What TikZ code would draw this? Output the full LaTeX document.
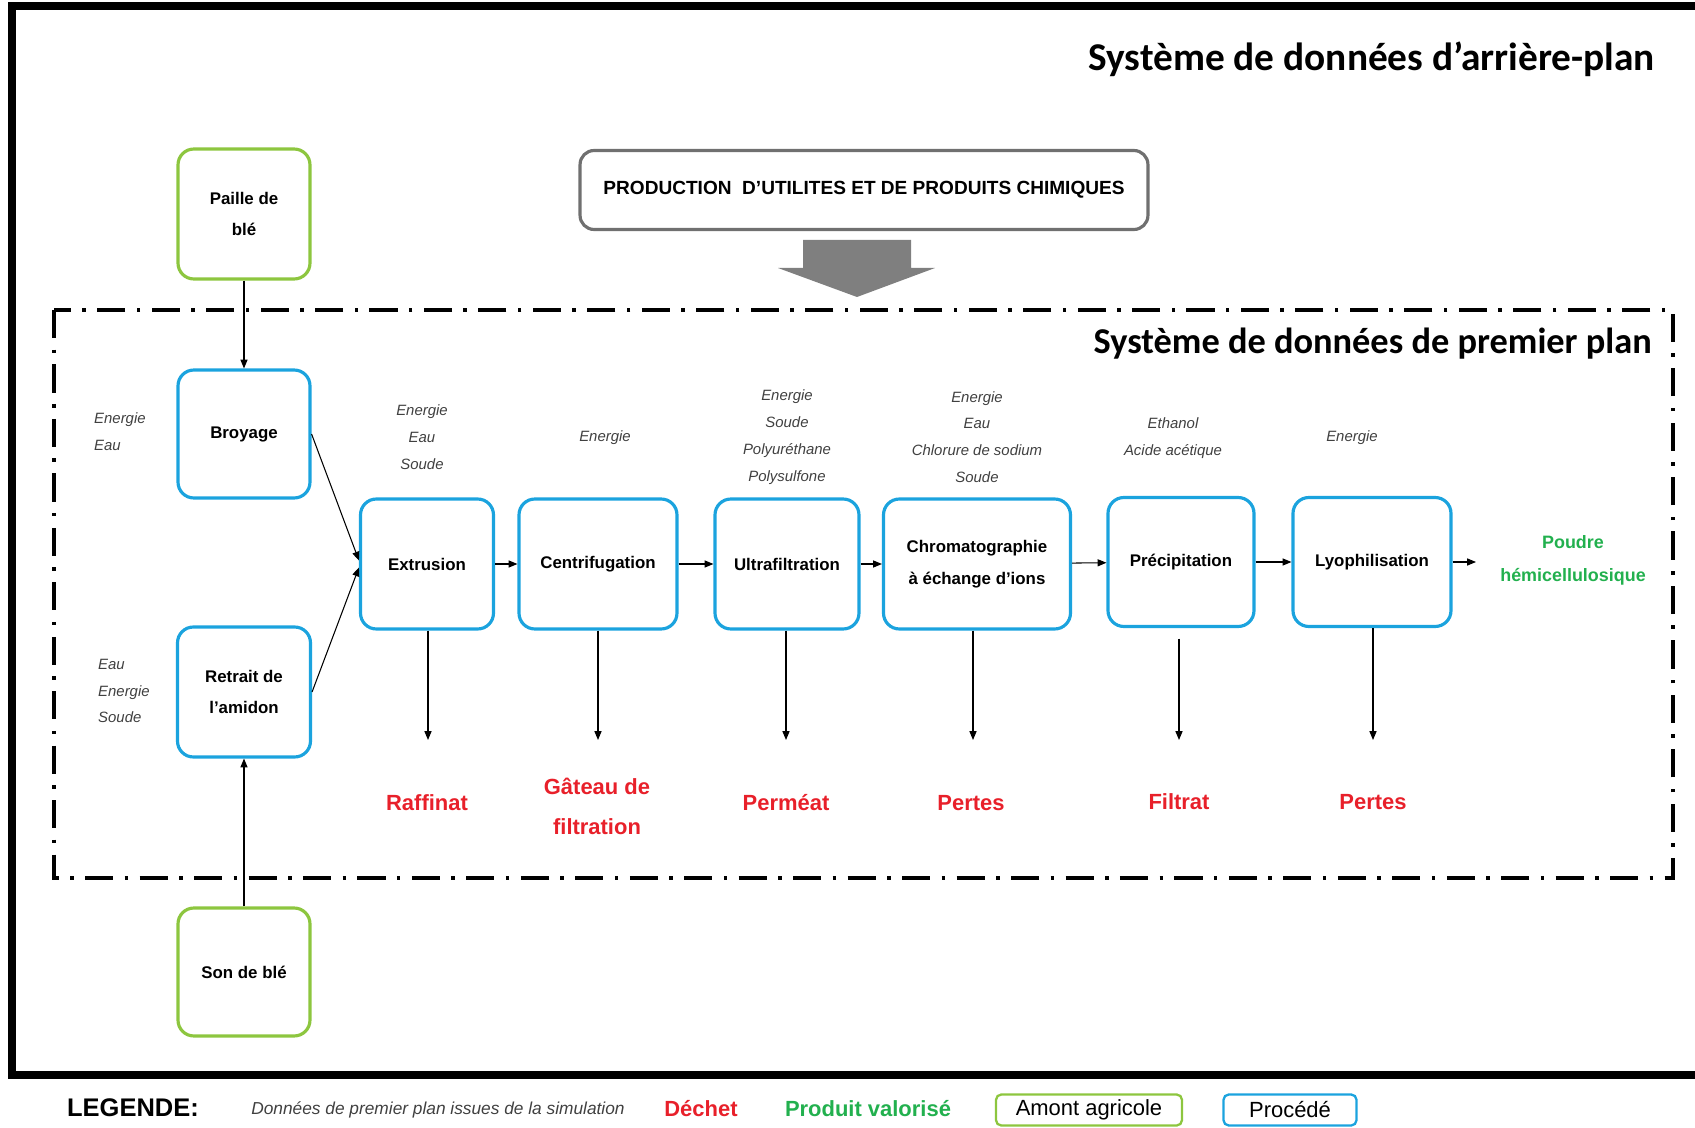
\documentclass[tikz,border=0pt]{standalone}
\usepackage{fontspec}
\setmainfont{Liberation Sans}
\newfontfamily\titlefont{Carlito}
\usetikzlibrary{arrows.meta}
\definecolor{agrigreen}{HTML}{8DC63F}
\definecolor{procblue}{HTML}{1BA3DE}
\definecolor{wastered}{HTML}{E8202A}
\definecolor{prodgreen}{HTML}{22B04E}
\definecolor{inputgray}{HTML}{404040}
\definecolor{utilgray}{HTML}{707070}
\definecolor{arrowgray}{HTML}{7F7F7F}

\begin{document}
\begin{tikzpicture}[x=0.02cm, y=-0.02cm,
  >={Triangle[length=5pt, width=4pt]},
  agribox/.style={draw=agrigreen, line width=1.8pt, rounded corners=9pt, inner sep=0pt,
    align=center, font=\fontsize{9.6}{18}\selectfont\bfseries},
  procbox/.style={draw=procblue, line width=1.8pt, rounded corners=9pt, inner sep=0pt,
    align=center, font=\fontsize{9.6}{18}\selectfont\bfseries},
  inputs/.style={text=inputgray, align=center, font=\fontsize{8.5}{15.3}\selectfont\itshape},
  waste/.style={text=wastered, align=center, font=\fontsize{12.5}{22.7}\selectfont\bfseries},
  bigtitle/.style={anchor=east},
  flow/.style={->, line width=0.6pt},
  legbox/.style={line width=1.3pt, rounded corners=3pt, inner sep=0pt,
    font=\fontsize{12.5}{15}\selectfont}]

\useasboundingbox (0,0) rectangle (1695,1128);

% Outer frame (cut on the right)
\draw[line width=4pt] (1695,6) -- (12,6) -- (12,1075) -- (1695,1075);

% Titles
\node[bigtitle, font=\titlefont\bfseries\fontsize{22.4}{26}\selectfont] (bgtitle) at (1661,59) {Système de données d’arrière-plan};
\node[bigtitle, font=\titlefont\bfseries\fontsize{20.7}{24}\selectfont] (fgtitle) at (1658,344) {Système de données de premier plan};

% Utilities box and big arrow
\node[draw=utilgray, line width=1.8pt, rounded corners=8pt, minimum width=11.36cm, minimum height=1.58cm,
  font=\fontsize{10.85}{12}\selectfont\bfseries] (util) at (864,190) {PRODUCTION\ \ D’UTILITES ET DE PRODUITS CHIMIQUES};
\fill[arrowgray] (803,240) -- (911,240) -- (911,268) -- (935,268) -- (857,297) -- (778,268) -- (803,268) -- cycle;

% Foreground system
\draw[line width=2.2pt, dash pattern=on 16pt off 6.5pt on 2pt off 6.5pt] (54,310) rectangle (1673,878);

% Agricultural inputs
\node[agribox, minimum width=2.64cm, minimum height=2.6cm] (paille) at (244,214) {Paille de\\blé};
\node[agribox, minimum width=2.64cm, minimum height=2.56cm] (son) at (244,972) {Son de blé};

% Pre-treatments
\node[procbox, minimum width=2.64cm, minimum height=2.56cm] (broyage) at (244,434) {Broyage};
\node[procbox, minimum width=2.66cm, minimum height=2.6cm] (retrait) at (244,692) {Retrait de\\l’amidon};

% Main chain
\node[procbox, minimum width=2.66cm, minimum height=2.6cm] (extrusion) at (427,564) {Extrusion};
\node[procbox, minimum width=3.16cm, minimum height=2.6cm] (centrif) at (598,564) {Centrifugation};
\node[procbox, minimum width=2.88cm, minimum height=2.6cm] (ultra) at (787,564) {Ultrafiltration};
\node[procbox, minimum width=3.74cm, minimum height=2.6cm] (chromato) at (977,564) {Chromatographie\\à échange d’ions};
\node[procbox, minimum width=2.92cm, minimum height=2.58cm] (precip) at (1181,562) {Précipitation};
\node[procbox, minimum width=3.16cm, minimum height=2.58cm] (lyo) at (1372,562) {Lyophilisation};

% Product
\node[text=prodgreen, align=center, font=\fontsize{10.2}{18.7}\selectfont\bfseries] (poudre) at (1573,560) {Poudre\\hémicellulosique};
\coordinate (lyoout) at (1476,562);

% Inputs
\node[inputs, align=left, anchor=west] (inbroyage) at (88,432) {Energie\\Eau};
\node[inputs, align=left, anchor=west] (inretrait) at (92,691) {Eau\\Energie\\Soude};
\node[inputs] (inextrusion) at (422,437) {Energie\\Eau\\Soude};
\node[inputs] (incentrif) at (605,438) {Energie};
\node[inputs] (inultra) at (787,437) {Energie\\Soude\\Polyuréthane\\Polysulfone};
\node[inputs] (inchromato) at (977,437) {Energie\\Eau\\Chlorure de sodium\\Soude};
\node[inputs] (inprecip) at (1173,438) {Ethanol\\Acide acétique};
\node[inputs] (inlyo) at (1352,438) {Energie};

% Wastes
\node[waste] (raffinat) at (427,803) {Raffinat};
\node[waste] (gateau) at (597,806) {Gâteau de\\filtration};
\node[waste] (permeat) at (786,803) {Perméat};
\node[waste] (pertesa) at (971,803) {Pertes};
\node[waste] (filtrat) at (1179,802) {Filtrat};
\node[waste] (pertesb) at (1373,802) {Pertes};
\coordinate (outextrusion) at (428,740);
\coordinate (outcentrif) at (598,740);
\coordinate (outultra) at (786,740);
\coordinate (outchromato) at (973,740);
\coordinate (outprecip) at (1179,740);
\coordinate (outlyo) at (1373,740);

% Connectors
\draw[flow] (paille) -- (broyage);
\draw[flow] (son) -- (retrait);
\draw[flow] (broyage.east) -- ([yshift=2pt]extrusion.west);
\draw[flow] (retrait.east) -- ([yshift=-2pt]extrusion.west);
\draw[flow] (extrusion) -- (centrif);
\draw[flow] (centrif) -- (ultra);
\draw[flow] (ultra) -- (chromato);
\draw[flow] (chromato) -- (precip);
\draw[flow] (precip) -- (lyo);
\draw[flow] (lyo) -- (lyoout);
\draw[flow] (extrusion.south -| outextrusion) -- (outextrusion);
\draw[flow] (centrif.south -| outcentrif) -- (outcentrif);
\draw[flow] (ultra.south -| outultra) -- (outultra);
\draw[flow] (chromato.south -| outchromato) -- (outchromato);
\draw[flow] ([yshift=-6pt]precip.south -| outprecip) -- (outprecip);
\draw[flow] (lyo.south -| outlyo) -- (outlyo);

% Legend
\node[font=\fontsize{14.5}{16}\selectfont\bfseries] (legende) at (133,1108) {LEGENDE:};
\node[text=inputgray, font=\fontsize{9.85}{11}\selectfont\itshape] (legdata) at (438,1110) {Données de premier plan issues de la simulation};
\node[text=wastered, font=\fontsize{12.5}{15}\selectfont\bfseries] (legwaste) at (701,1109) {Déchet};
\node[text=prodgreen, font=\fontsize{12.5}{15}\selectfont\bfseries] (legprod) at (868,1109) {Produit valorisé};
\node[legbox, draw=agrigreen, minimum width=3.72cm, minimum height=0.62cm] (legagri) at (1089,1110) {Amont agricole};
\node[legbox, draw=procblue, minimum width=2.66cm, minimum height=0.62cm] (legproc) at (1290,1110) {Procédé};

\end{tikzpicture}
\end{document}
